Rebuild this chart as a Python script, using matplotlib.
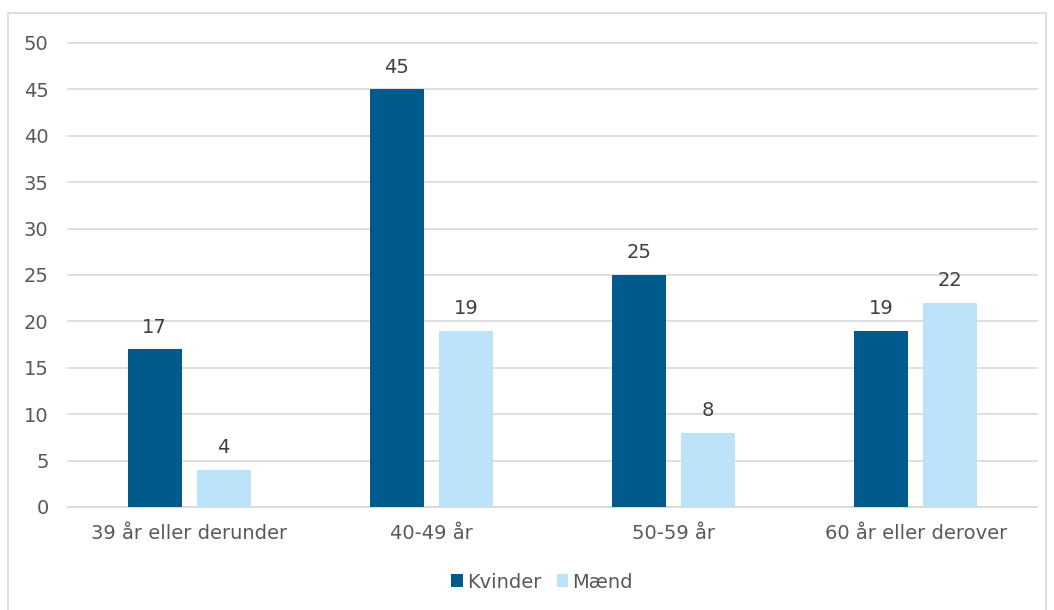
import matplotlib
matplotlib.use("Agg")
import matplotlib.pyplot as plt
import numpy as np
from matplotlib.patches import Rectangle

categories = ["39 år eller derunder", "40-49 år", "50-59 år", "60 år eller derover"]
kvinder = [17, 45, 25, 19]
maend = [4, 19, 8, 22]
series_names = ["Kvinder", "Mænd"]
yticks = [0, 5, 10, 15, 20, 25, 30, 35, 40, 45, 50]

dark = "#005A8C"
light = "#BDE3FB"
txt = "#595959"

plt.rcParams["font.family"] = ["DejaVu Sans"]
fig = plt.figure(figsize=(10.54, 6.10), dpi=100)
fig.patches.append(Rectangle((8/1054, -0.01), (1046-8)/1054, 1 - 13/610 + 0.01,
                             transform=fig.transFigure, fill=False,
                             edgecolor="#D9D9D9", linewidth=1.2))
ax = fig.add_axes([68/1054, 1 - 507/610, (1037-68)/1054, (507-43)/610])

x = np.arange(len(categories))
w = 0.223
off = 0.142
b1 = ax.bar(x - off, kvinder, w, color=dark, label=series_names[0], zorder=3)
b2 = ax.bar(x + off, maend, w, color=light, label=series_names[1], zorder=3)
for bars in (b1, b2):
    for r in bars:
        ax.annotate(f"{int(r.get_height())}", (r.get_x() + r.get_width()/2, r.get_height()),
                    xytext=(0, 9), textcoords="offset points", ha="center", va="bottom",
                    fontsize=14, color="#404040")

ax.set_xlim(-0.5, len(categories) - 0.5)
ax.set_ylim(0, 50)
ax.set_yticks(yticks)
ax.set_xticks(x)
ax.set_xticklabels(categories)
ax.yaxis.grid(True, color="#D9D9D9", linewidth=1.2, zorder=0, clip_on=False)
ax.set_axisbelow(True)
for s in ["top", "right", "left"]:
    ax.spines[s].set_visible(False)
ax.spines["bottom"].set_color("#D9D9D9")
ax.spines["bottom"].set_linewidth(1.2)
ax.tick_params(axis="both", length=0, labelsize=14, colors=txt)
ax.tick_params(axis="y", pad=14)
ax.tick_params(axis="x", pad=12)

ax.legend(loc="center", bbox_to_anchor=(542/1054, 1 - 582/610), bbox_transform=fig.transFigure,
          ncol=2, frameon=False, fontsize=14, labelcolor=txt, handlelength=0.6,
          handleheight=0.6, handletextpad=0.2, columnspacing=0.8)

fig.savefig("out.png", dpi=100)
